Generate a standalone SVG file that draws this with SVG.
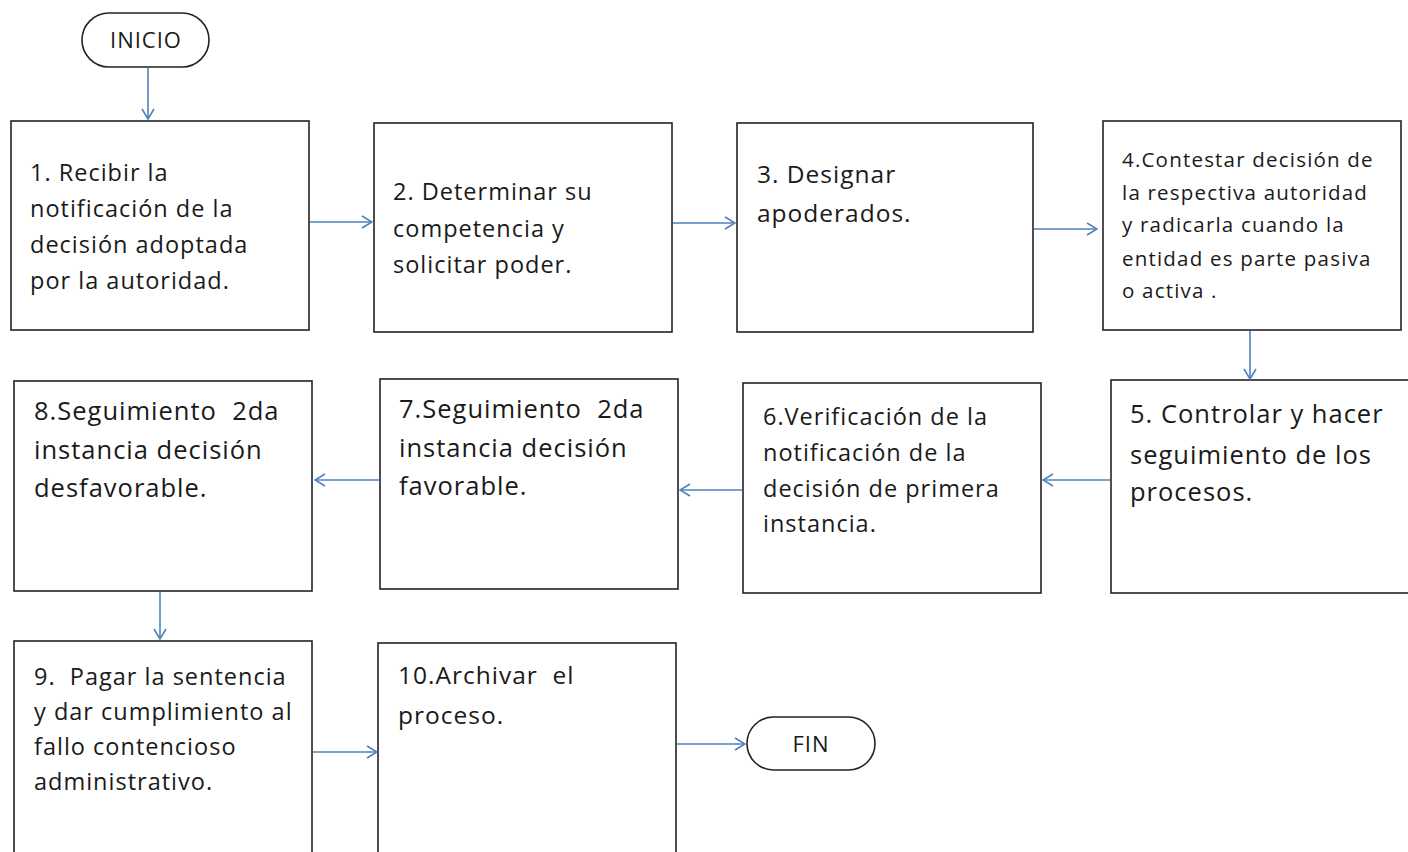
<svg xmlns="http://www.w3.org/2000/svg" width="1408" height="852" viewBox="0 0 1408 852">
<style>
.box{fill:#fff;stroke:#222;stroke-width:1.6}
.t{font-family:"Open Sans","Liberation Sans",sans-serif;fill:#1a1a1a;white-space:pre;font-weight:500;letter-spacing:1px}
.c{stroke:#4f81bd;stroke-width:1.6;fill:none}
</style>
<defs>
<marker id="ah" viewBox="0 0 12 14" refX="11" refY="7" markerWidth="12" markerHeight="14" markerUnits="userSpaceOnUse" orient="auto">
<path d="M1 1 L11 7 L1 13" fill="none" stroke="#4f81bd" stroke-width="1.6"/>
</marker>
</defs>
<rect width="1408" height="852" fill="#fff"/>
<g id="inicio">
<rect class="box" x="82" y="13" width="127" height="54" rx="27"/>
<text class="t" x="146" y="48" font-size="22" text-anchor="middle">INICIO</text>
</g>
<g id="n1">
<rect class="box" x="11" y="121" width="298" height="209"/>
<text class="t" font-size="23.5"><tspan x="30" y="181">1. Recibir la</tspan><tspan x="30" y="217">notificación de la</tspan><tspan x="30" y="253">decisión adoptada</tspan><tspan x="30" y="289">por la autoridad.</tspan></text>
</g>
<g id="n2">
<rect class="box" x="374" y="123" width="298" height="209"/>
<text class="t" font-size="23.5"><tspan x="393" y="200">2. Determinar su</tspan><tspan x="393" y="237">competencia y</tspan><tspan x="393" y="273">solicitar poder.</tspan></text>
</g>
<g id="n3">
<rect class="box" x="737" y="123" width="296" height="209"/>
<text class="t" font-size="24.5"><tspan x="757" y="183">3. Designar</tspan><tspan x="757" y="222">apoderados.</tspan></text>
</g>
<g id="n4">
<rect class="box" x="1103" y="121" width="298" height="209"/>
<text class="t" font-size="20.5" style="letter-spacing:1.2px"><tspan x="1122" y="167">4.Contestar decisión de</tspan><tspan x="1122" y="200">la respectiva autoridad</tspan><tspan x="1122" y="232">y radicarla cuando la</tspan><tspan x="1122" y="266">entidad es parte pasiva</tspan><tspan x="1122" y="298">o activa .</tspan></text>
</g>
<g id="n5">
<rect class="box" x="1111" y="380" width="300" height="213"/>
<text class="t" font-size="25.5"><tspan x="1130" y="423">5. Controlar y hacer</tspan><tspan x="1130" y="464">seguimiento de los</tspan><tspan x="1130" y="501">procesos.</tspan></text>
</g>
<g id="n6">
<rect class="box" x="743" y="383" width="298" height="210"/>
<text class="t" font-size="23.5"><tspan x="763" y="425">6.Verificación de la</tspan><tspan x="763" y="461">notificación de la</tspan><tspan x="763" y="497">decisión de primera</tspan><tspan x="763" y="532">instancia.</tspan></text>
</g>
<g id="n7">
<rect class="box" x="380" y="379" width="298" height="210"/>
<text class="t" font-size="25.5"><tspan x="399" y="418">7.Seguimiento  2da</tspan><tspan x="399" y="457">instancia decisión</tspan><tspan x="399" y="495">favorable.</tspan></text>
</g>
<g id="n8">
<rect class="box" x="14" y="381" width="298" height="210"/>
<text class="t" font-size="25.5"><tspan x="34" y="420">8.Seguimiento  2da</tspan><tspan x="34" y="459">instancia decisión</tspan><tspan x="34" y="497">desfavorable.</tspan></text>
</g>
<g id="n9">
<rect class="box" x="14" y="641" width="298" height="220"/>
<text class="t" font-size="23.5"><tspan x="34" y="685">9.  Pagar la sentencia</tspan><tspan x="34" y="720">y dar cumplimiento al</tspan><tspan x="34" y="755">fallo contencioso</tspan><tspan x="34" y="790">administrativo.</tspan></text>
</g>
<g id="n10">
<rect class="box" x="378" y="643" width="298" height="220"/>
<text class="t" font-size="24.5"><tspan x="398" y="684">10.Archivar  el</tspan><tspan x="398" y="724">proceso.</tspan></text>
</g>
<g id="fin">
<rect class="box" x="747" y="717" width="128" height="53" rx="26.5"/>
<text class="t" x="811" y="752" font-size="22" text-anchor="middle">FIN</text>
</g>
<g id="connectors">
<line class="c" x1="148" y1="68" x2="148" y2="119" marker-end="url(#ah)"/>
<line class="c" x1="310" y1="222" x2="372" y2="222" marker-end="url(#ah)"/>
<line class="c" x1="673" y1="223" x2="735" y2="223" marker-end="url(#ah)"/>
<line class="c" x1="1034" y1="229" x2="1097" y2="229" marker-end="url(#ah)"/>
<line class="c" x1="1250" y1="331" x2="1250" y2="379" marker-end="url(#ah)"/>
<line class="c" x1="1110" y1="480" x2="1043" y2="480" marker-end="url(#ah)"/>
<line class="c" x1="742" y1="490" x2="680" y2="490" marker-end="url(#ah)"/>
<line class="c" x1="379" y1="480" x2="315" y2="480" marker-end="url(#ah)"/>
<line class="c" x1="160" y1="592" x2="160" y2="639" marker-end="url(#ah)"/>
<line class="c" x1="313" y1="752" x2="377" y2="752" marker-end="url(#ah)"/>
<line class="c" x1="677" y1="744" x2="745" y2="744" marker-end="url(#ah)"/>
</g>
</svg>
